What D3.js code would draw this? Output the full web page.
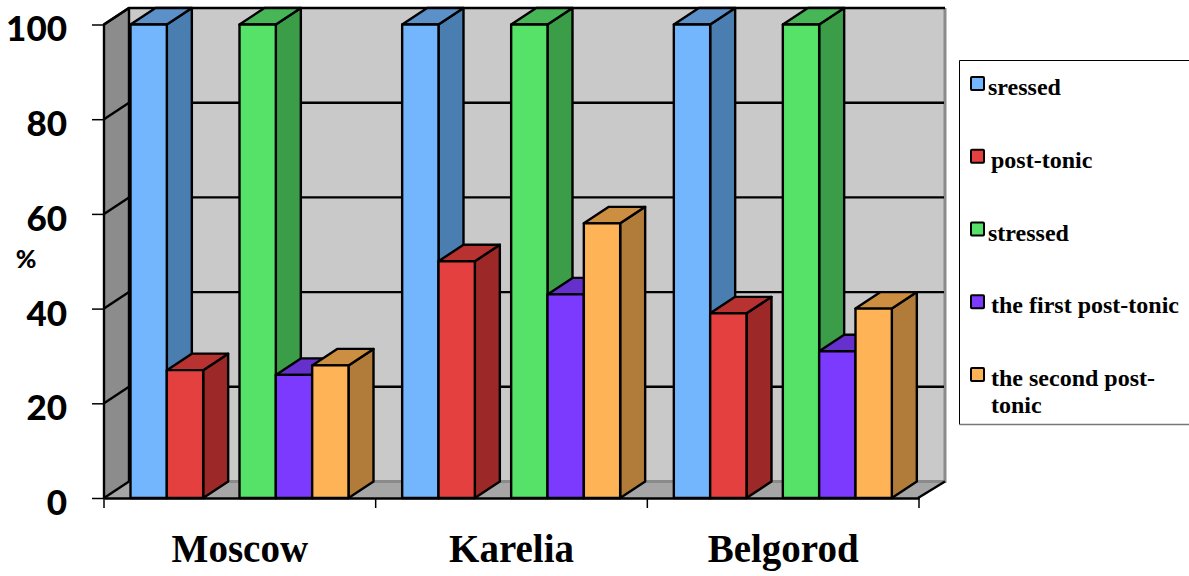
<!DOCTYPE html>
<html>
<head>
<meta charset="utf-8">
<script src="https://cdn.jsdelivr.net/npm/d3@7"></script>
<style>
  html, body { margin: 0; padding: 0; background: #fff; overflow: hidden; }
</style>
</head>
<body>
<div id="container"></div>
<script>
/* CONSTANTS AND GLOBALS */
const width = 1189
const height = 576

// data
const cities = ["Moscow", "Karelia", "Belgorod"]
const sressed = [100, 100, 100]
const postTonic = [27, 50, 39]
const stressed = [100, 100, 100]
const firstPostTonic = [26, 43, 31]
const secondPostTonic = [28, 58, 40]
const yTicks = [0, 20, 40, 60, 80, 100]

const seriesValues = [sressed, postTonic, stressed, firstPostTonic, secondPostTonic]
const frontColors = ["#74b6fe", "#e54040", "#56e268", "#7c3aff", "#feb356"]
const sideColors = ["#4a7eb1", "#9d2828", "#3c9d48", "#5628b1", "#b17c3a"]
const topColors = ["#5b90c8", "#b83232", "#47b656", "#6530cc", "#cc8f42"]

// the depth of the 3d box
const dx = 25
const dy = -16.5
const boxLeft = 104, boxRight = 920, boxBottom = 498, boxTop = 24.5

/* SCALES */
const yScale = d3.scaleLinear().domain([0, 100]).range([boxBottom, boxTop])
const xScale = d3.scaleBand().domain(cities).range([boxLeft, 919])
// a blank slot sits between the second and third series
const slots = [0, 1, "gap", 2, 3, 4]
const slotScale = d3.scaleBand().domain(slots).range([26.5, 244.5])

/* HTML ELEMENTS */
const svg = d3.select("#container")
  .append("svg")
  .attr("width", width)
  .attr("height", height)
  .style("display", "block")

const line = d3.line()

// walls and floor
svg.append("path")
  .attr("d", line([[boxLeft, boxBottom], [boxLeft + dx, boxBottom + dy], [boxLeft + dx, boxTop - 1 + dy], [boxLeft, boxTop]]) + "Z")
  .attr("fill", "#8c8c8c")
svg.append("rect")
  .attr("x", boxLeft + dx).attr("y", boxTop + dy)
  .attr("width", boxRight - boxLeft).attr("height", boxBottom - boxTop)
  .attr("fill", "#c9c9c9")
svg.append("path")
  .attr("d", line([[boxLeft, boxBottom], [boxLeft + dx, boxBottom + dy], [boxRight + dx, boxBottom + dy], [boxRight, boxBottom]]) + "Z")
  .attr("fill", "#a6a6a6")
// lighter edge around the back wall
svg.append("path")
  .attr("d", line([[boxLeft + dx, boxBottom + dy], [boxRight + dx, boxBottom + dy], [boxRight + dx, boxTop + dy]]))
  .attr("fill", "none").attr("stroke", "#8a8a8a").attr("stroke-width", 3)

// gridlines
svg.selectAll(".grid")
  .data(yTicks.filter(d => d > 0 && d < 100))
  .join("line")
  .attr("class", "grid")
  .attr("x1", boxLeft + dx).attr("x2", boxRight + dx - 1)
  .attr("y1", d => yScale(d) + dy).attr("y2", d => yScale(d) + dy)
  .attr("stroke", "#000").attr("stroke-width", 2.4)
svg.selectAll(".sidegrid")
  .data(yTicks)
  .join("line")
  .attr("class", "sidegrid")
  .attr("x1", boxLeft).attr("x2", boxLeft + dx)
  .attr("y1", d => yScale(d)).attr("y2", d => yScale(d) + dy)
  .attr("stroke", "#000").attr("stroke-width", 2.4)

// box outline
svg.append("path")
  .attr("d", line([[boxLeft, boxBottom], [boxLeft, boxTop], [boxLeft + dx, boxTop + dy], [boxRight + dx, boxTop + dy]]))
  .attr("fill", "none").attr("stroke", "#000").attr("stroke-width", 2.4)
svg.append("line")
  .attr("x1", boxLeft + dx).attr("x2", boxLeft + dx)
  .attr("y1", boxTop + dy).attr("y2", boxBottom + dy)
  .attr("stroke", "#000").attr("stroke-width", 2.4)
svg.append("path")
  .attr("d", line([[918, boxBottom], [boxRight + dx, boxBottom + dy]]))
  .attr("fill", "none").attr("stroke", "#000").attr("stroke-width", 2.4)

// bars
const bars = cities.flatMap((city, c) => seriesValues.map((vals, s) => ({ city, s, value: vals[c] })))
const barG = svg.selectAll(".bar")
  .data(bars)
  .join("g")
  .attr("class", "bar")
  .attr("stroke", "#000")
  .attr("stroke-width", 2.4)
  .attr("stroke-linejoin", "round")

const x0 = d => xScale(d.city) + slotScale(d.s)
const x1 = d => x0(d) + slotScale.bandwidth()

barG.append("path")
  .attr("fill", d => sideColors[d.s])
  .attr("d", d => line([[x1(d), yScale(0)], [x1(d) + dx, yScale(0) + dy], [x1(d) + dx, yScale(d.value) + dy], [x1(d), yScale(d.value)]]) + "Z")
barG.append("path")
  .attr("fill", d => topColors[d.s])
  .attr("d", d => line([[x0(d), yScale(d.value)], [x0(d) + dx, yScale(d.value) + dy], [x1(d) + dx, yScale(d.value) + dy], [x1(d), yScale(d.value)]]) + "Z")
barG.append("rect")
  .attr("fill", d => frontColors[d.s])
  .attr("x", x0)
  .attr("y", d => yScale(d.value))
  .attr("width", slotScale.bandwidth())
  .attr("height", d => yScale(0) - yScale(d.value))

// axes
const yAxis = d3.axisLeft(yScale).tickValues(yTicks).tickSize(12).tickPadding(25)
const yG = svg.append("g")
  .attr("transform", `translate(${boxLeft},0)`)
  .call(yAxis)
yG.select(".domain").remove()
yG.selectAll("line").attr("stroke", "#000").attr("stroke-width", 1.5)
yG.selectAll("text")
  .attr("font-family", "Lato, sans-serif")
  .attr("font-weight", 900)
  .attr("font-size", 35)
  .attr("fill", "#000")
  .attr("dy", "0.47em")

const xAxis = d3.axisBottom(xScale).tickSize(0).tickPadding(36)
const xG = svg.append("g")
  .attr("transform", `translate(0,${boxBottom})`)
  .call(xAxis)
xG.select(".domain").attr("stroke", "#000").attr("stroke-width", 2.4)
xG.selectAll("text")
  .attr("font-family", "'Liberation Serif', serif")
  .attr("font-weight", 700)
  .attr("font-size", 39)
  .attr("fill", "#000")

// ticks between the cities
svg.selectAll(".xtick")
  .data([...xScale.domain().map(d => xScale(d)), xScale.range()[1]])
  .join("line")
  .attr("class", "xtick")
  .attr("x1", d => d).attr("x2", d => d)
  .attr("y1", boxBottom).attr("y2", boxBottom + 10)
  .attr("stroke", "#000").attr("stroke-width", 1.5)

// % label
svg.append("text")
  .attr("x", 26).attr("y", 268)
  .attr("text-anchor", "middle")
  .attr("font-family", "Lato, sans-serif")
  .attr("font-weight", 900)
  .attr("font-size", 25)
  .text("%")

/* LEGEND */
svg.append("path")
  .attr("d", line([[1189, 60.5], [959.5, 60.5], [959.5, 424.5]]))
  .attr("fill", "#fff").attr("stroke", "#000").attr("stroke-width", 1)
svg.append("path")
  .attr("d", line([[959.5, 424.5], [1189, 424.5]]))
  .attr("fill", "none").attr("stroke", "#777").attr("stroke-width", 1.5)

const legendRows = [
  [["sressed"], 988],
  [["post-tonic"], 991],
  [["stressed"], 988],
  [["the first post-tonic"], 991],
  [["the second post-", "tonic"], 991]
]
const legendY = d3.scalePoint().domain(d3.range(5)).range([87, 378])
const legendG = svg.selectAll(".legend")
  .data(legendRows)
  .join("g")
  .attr("class", "legend")

legendG.append("rect")
  .attr("x", 971)
  .attr("y", (d, i) => legendY(i) - 10)
  .attr("width", 13).attr("height", 13).attr("rx", 1)
  .attr("fill", (d, i) => frontColors[i])
  .attr("stroke", "#000").attr("stroke-width", 2)

legendG.each(function (d, i) {
  d[0].forEach((t, j) => {
    d3.select(this).append("text")
      .attr("x", d[1])
      .attr("y", legendY(i) + 8 + j * 27)
      .attr("font-family", "'Liberation Serif', serif")
      .attr("font-weight", 700)
      .attr("font-size", 24)
      .text(t)
  })
})
</script>
</body>
</html>
